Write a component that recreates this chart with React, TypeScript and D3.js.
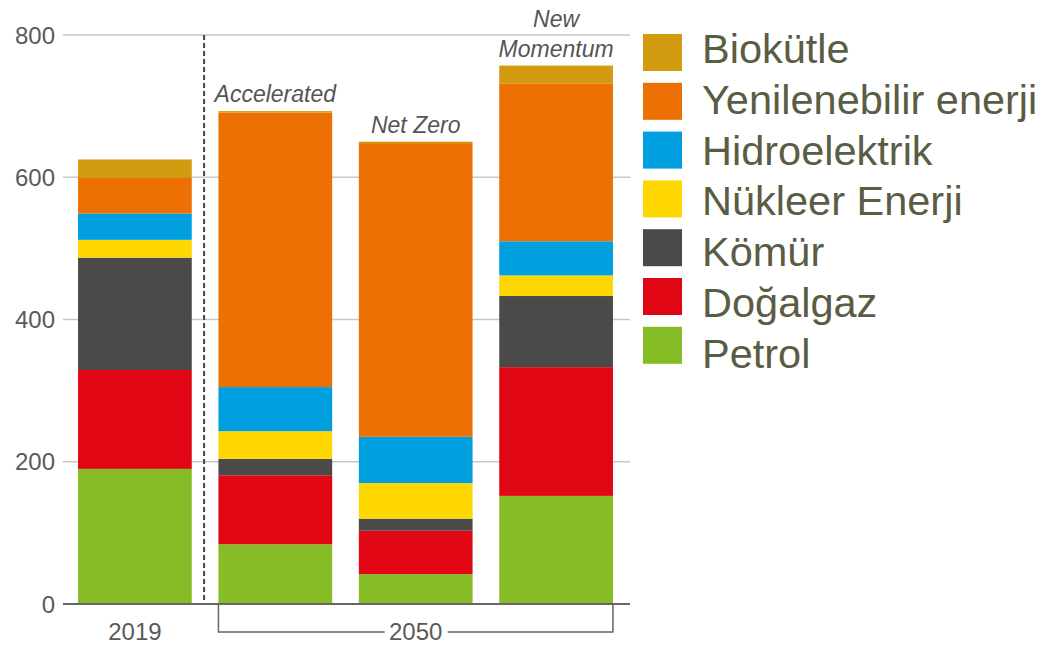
import React, { useEffect, useRef } from 'react';
import * as d3 from 'd3';

const categories = ["2019", "Accelerated", "Net Zero", "New Momentum"];
const scenarioLabels = [[], ["Accelerated"], ["Net Zero"], ["New", "Momentum"]];

const seriesNames = ["Petrol", "Doğalgaz", "Kömür", "Nükleer Enerji", "Hidroelektrik", "Yenilenebilir enerji", "Biokütle"];
const petrol = [190, 84, 42, 152];
const dogalgaz = [139, 97, 61, 181];
const komur = [158, 23, 17, 100];
const nukleer = [25, 39, 50, 29];
const hidro = [37, 62, 65, 48];
const yenilenebilir = [50, 386, 413, 222];
const biokutle = [26, 2, 2, 25];
const colors = ["#86bc25", "#e10613", "#4a4a48", "#fed700", "#009fe0", "#ec7004", "#d29b10"];

const yTicks = [0, 200, 400, 600, 800];

const App: React.FC = () => {
  const ref = useRef<SVGSVGElement | null>(null);

  useEffect(() => {
    if (!ref.current) return;
    const svg = d3.select(ref.current);
    svg.selectAll("*").remove();

    const allSeries = [petrol, dogalgaz, komur, nukleer, hidro, yenilenebilir, biokutle];
    const rows = categories.map((c, i) => {
      const row: any = { cat: c };
      seriesNames.forEach((s, j) => { row[s] = allSeries[j][i]; });
      return row;
    });

    const x = d3.scaleBand().domain(categories).range([64, 627]).paddingInner(0.19).paddingOuter(0.1);
    const y = d3.scaleLinear().domain([0, 800]).range([604, 35]);
    const color = d3.scaleOrdinal<string, string>().domain(seriesNames).range(colors);

    // grid
    svg.append("g")
      .selectAll("line")
      .data(yTicks.filter(d => d > 0))
      .enter()
      .append("line")
      .attr("x1", 63).attr("x2", 630)
      .attr("y1", d => y(d)).attr("y2", d => y(d))
      .attr("stroke", "#c8c8c8")
      .attr("stroke-width", 1.5);

    svg.append("g")
      .selectAll("text")
      .data(yTicks)
      .enter()
      .append("text")
      .attr("x", 55)
      .attr("y", d => y(d))
      .attr("dy", "0.36em")
      .attr("text-anchor", "end")
      .attr("font-family", "Liberation Sans, Arial, sans-serif")
      .attr("font-size", 24)
      .attr("fill", "#5a5a5a")
      .text(d => d);

    // stacked bars
    const stack = d3.stack<any>().keys(seriesNames)(rows);
    svg.append("g")
      .selectAll("g")
      .data(stack)
      .enter()
      .append("g")
      .attr("fill", d => color(d.key))
      .selectAll("rect")
      .data(d => d)
      .enter()
      .append("rect")
      .attr("x", d => x(d.data.cat) as number)
      .attr("width", x.bandwidth())
      .attr("y", d => y(d[1]))
      .attr("height", d => y(d[0]) - y(d[1]));

    // dashed separator between 2019 and 2050
    const sepX = ((x("2019") as number) + x.bandwidth() + (x("Accelerated") as number)) / 2 - 1;
    svg.append("line")
      .attr("x1", sepX).attr("x2", sepX)
      .attr("y1", y(800)).attr("y2", y(0))
      .attr("stroke", "#444")
      .attr("stroke-width", 2)
      .attr("stroke-dasharray", "5,3");

    // baseline
    svg.append("line")
      .attr("x1", 63).attr("x2", 630)
      .attr("y1", y(0)).attr("y2", y(0))
      .attr("stroke", "#666")
      .attr("stroke-width", 2);

    // scenario labels above bars
    categories.forEach((c, i) => {
      const total = d3.sum(allSeries, s => s[i]);
      const lines = scenarioLabels[i];
      lines.forEach((t, k) => {
        svg.append("text")
          .attr("x", (x(c) as number) + x.bandwidth() / 2)
          .attr("y", y(total) - 9 - (lines.length - 1 - k) * 30)
          .attr("text-anchor", "middle")
          .attr("font-family", "Liberation Sans, Arial, sans-serif")
          .attr("font-style", "italic")
          .attr("font-size", 23)
          .attr("fill", "#555")
          .attr("stroke", "#fff")
          .attr("stroke-width", 8)
          .attr("stroke-linejoin", "round")
          .attr("paint-order", "stroke")
          .text(t);
      });
    });

    // category labels
    svg.append("text")
      .attr("x", (x("2019") as number) + x.bandwidth() / 2)
      .attr("y", 640)
      .attr("text-anchor", "middle")
      .attr("font-family", "Liberation Sans, Arial, sans-serif")
      .attr("font-size", 24)
      .attr("fill", "#5a5a5a")
      .text("2019");

    const bx0 = x("Accelerated") as number;
    const bx1 = (x("New Momentum") as number) + x.bandwidth();
    const bmid = (bx0 + bx1) / 2;
    svg.append("path")
      .attr("d", `M${bx0},605V632H${bmid - 31}M${bmid + 32},632H${bx1}V605`)
      .attr("fill", "none")
      .attr("stroke", "#666")
      .attr("stroke-width", 1.5);
    svg.append("text")
      .attr("x", bmid)
      .attr("y", 640)
      .attr("text-anchor", "middle")
      .attr("font-family", "Liberation Sans, Arial, sans-serif")
      .attr("font-size", 24)
      .attr("fill", "#5a5a5a")
      .text("2050");

    // legend (top to bottom: reversed stack order)
    const legendItems = seriesNames.slice().reverse();
    const legend = svg.append("g");
    legendItems.forEach((name, i) => {
      legend.append("rect")
        .attr("x", 643)
        .attr("y", 34 + i * 48.8)
        .attr("width", 39)
        .attr("height", 37)
        .attr("fill", color(name));
      legend.append("text")
        .attr("x", 702)
        .attr("y", 63 + i * 50.8)
        .attr("font-family", "Liberation Sans, Arial, sans-serif")
        .attr("font-size", 41.5)
        .attr("fill", "#5a5d44")
        .text(name);
    });
  }, []);

  return (
    <svg ref={ref} width={1047} height={645}
      style={{ position: 'absolute', left: 0, top: 0, background: '#fff' }} />
  );
};

export default App;
